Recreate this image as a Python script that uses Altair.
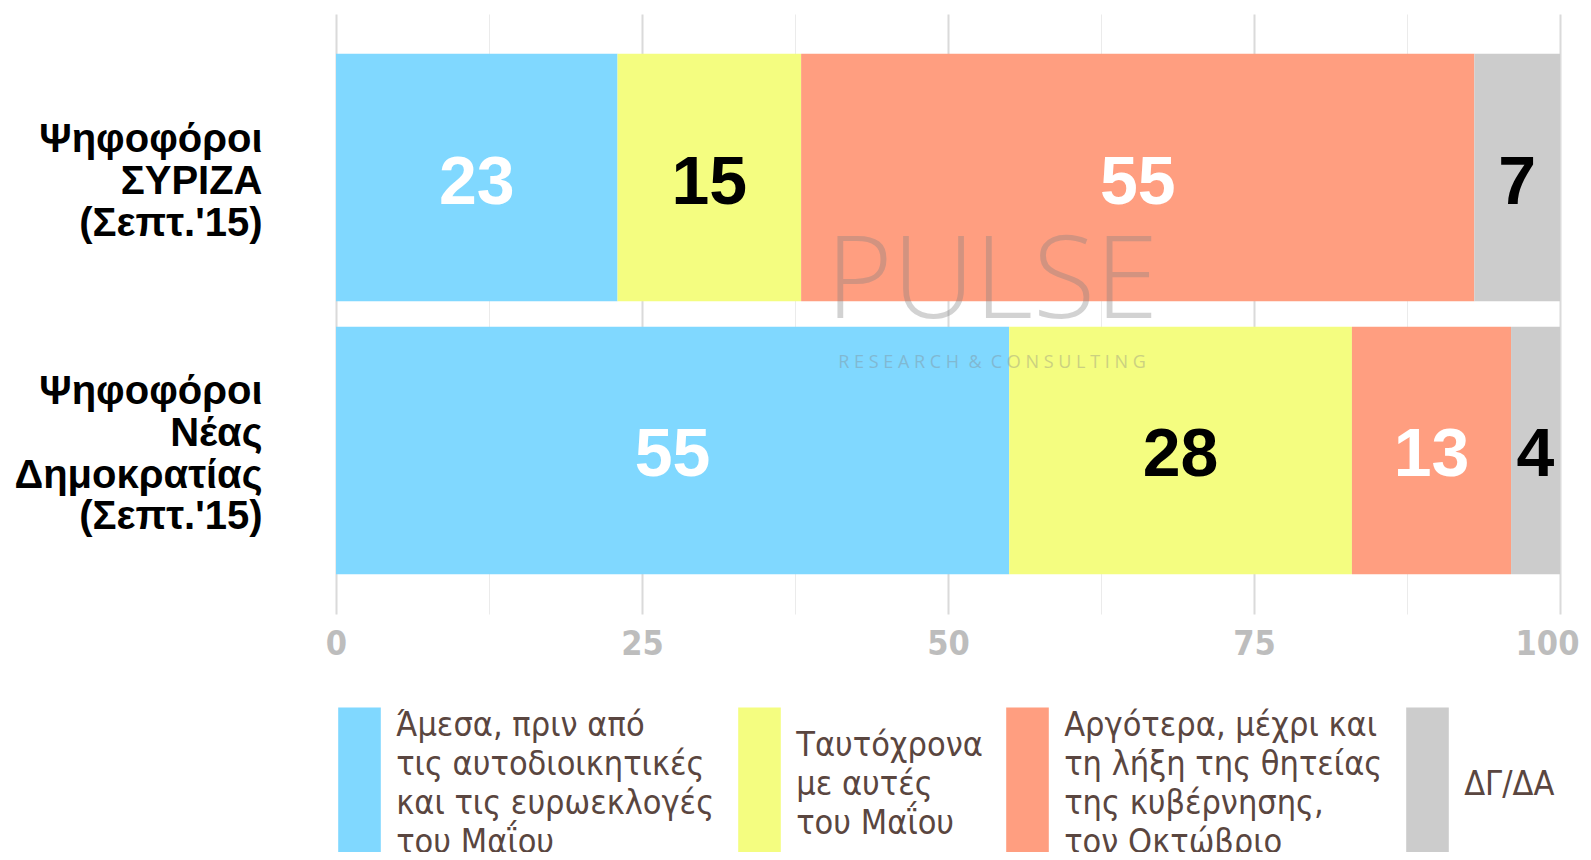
import altair as alt
import pandas as pd

groups = ["Ψηφοφόροι|ΣΥΡΙΖΑ|(Σεπτ.'15)", "Ψηφοφόροι|Νέας|Δημοκρατίας|(Σεπτ.'15)"]
answers = [
    "Άμεσα, πριν από|τις αυτοδιοικητικές|και τις ευρωεκλογές|του Μαΐου",
    "Ταυτόχρονα|με αυτές|του Μαΐου",
    "Αργότερα, μέχρι και|τη λήξη της θητείας|της κυβέρνησης,|τον Οκτώβριο",
    "ΔΓ/ΔΑ",
]
syriza_values = [23, 15, 55, 7]
nd_values = [55, 28, 13, 4]
palette = ["#80d8ff", "#f4fd80", "#ff9e80", "#cccccc"]
grid_ticks = [0, 12.5, 25, 37.5, 50, 62.5, 75, 87.5, 100]

rows = []
for g, vals in zip(groups, [syriza_values, nd_values]):
    for i, (a, v) in enumerate(zip(answers, vals)):
        rows.append({"group": g, "answer": a, "value": v, "order": i})
df = pd.DataFrame(rows)

FONT = "Liberation Sans, Arial, sans-serif"
NARROW = "Liberation Sans Narrow, Arial Narrow, DejaVu Sans Condensed, sans-serif"

# split a "|"-separated label into 7 half-height slots (blank slots hold a zero-width space),
# so that labels of 1..4 lines share the same vertical centre
N = "\u200b"
PAD = (f"split(slice('{N}|{N}|{N}|', 0, 2 * (4 - length(split(datum.label, '|')))) + "
       f"replace(datum.label, regexp('[|]', 'g'), '|{N}|') + "
       f"slice('|{N}|{N}|{N}', 0, 2 * (4 - length(split(datum.label, '|')))), '|')")

base = alt.Chart(df)

x_axis = alt.Axis(
    values=grid_ticks,
    labelExpr="datum.value % 25 === 0 ? datum.label : ''",
    domain=False, ticks=False, labelFlush=False, labelOverlap=False,
    labelFont=NARROW, labelFontSize=34, labelFontWeight="bold", labelColor="#bdbdbd",
    labelBaseline="middle", labelPadding=30,
    labelOffset={"condition": {"test": "datum.value === 100", "value": -13}, "value": 0},
    gridColor={"condition": {"test": "datum.value % 25 === 0", "value": "#dadada"}, "value": "#ebebeb"},
    gridWidth={"condition": {"test": "datum.value % 25 === 0", "value": 2}, "value": 1},
    title=None,
)
y_axis = alt.Axis(
    labelExpr=PAD,
    domain=False, ticks=False, grid=False,
    labelFont=FONT, labelFontSize=40, labelFontWeight="bold", labelColor="black",
    labelLineHeight=20.8, labelOffset=-58, labelPadding=74, labelLimit=400, title=None,
)

bars = base.mark_bar().encode(
    x=alt.X("value:Q", stack="zero", scale=alt.Scale(domain=[0, 100], nice=False), axis=x_axis),
    y=alt.Y("group:N", sort=groups, scale=alt.Scale(paddingInner=0.093, paddingOuter=0.146), axis=y_axis),
    color=alt.Color(
        "answer:N",
        scale=alt.Scale(domain=answers, range=palette),
        legend=alt.Legend(
            orient="none", legendX=2, legendY=690.7, direction="horizontal",
            title=None, padding=0,
            symbolType="M-1,-0.892L1,-0.892L1,6.009L-1,6.009Z",
            symbolSize=1815, symbolStrokeWidth=0, symbolOpacity=1,
            labelOffset=15.2,
            columnPadding=23, labelLimit=1000,
            labelExpr=PAD,
            labelFont=NARROW, labelFontSize=34, labelColor="#5a4640",
        ),
    ),
    order=alt.Order("order:Q"),
)

labels = base.transform_window(
    cum="sum(value)", groupby=["group"], sort=[alt.SortField("order")], frame=[None, 0]
).transform_calculate(
    mid="datum.cum - datum.value / 2"
).mark_text(font=FONT, fontSize=68, fontWeight="bold", baseline="middle", dy=6).encode(
    x=alt.X("mid:Q"),
    y=alt.Y("group:N", sort=groups),
    text=alt.Text("value:Q"),
    color=alt.condition("datum.order % 2 === 0", alt.value("white"), alt.value("black")),
)

wm1 = alt.Chart(pd.DataFrame({"t": ["PULSE"]})).mark_text(
    font="Open Sans, sans-serif", fontSize=114, fontWeight=300, color="#808080",
    opacity=0.35, baseline="middle",
).encode(x=alt.value(656), y=alt.value(270), text="t:N")

wm2 = alt.Chart(pd.DataFrame({"t": ["R E S E A R C H \u00a0&\u00a0 C O N S U L T I N G"]})).mark_text(
    font="Open Sans, sans-serif", fontSize=18, color="#808080",
    opacity=0.35, baseline="middle",
).encode(x=alt.value(656), y=alt.value(349), text="t:N")

chart = alt.layer(bars, labels, wm1, wm2).properties(
    width=1224, height=600,
    autosize=alt.AutoSizeParams(type="none"),
    padding={"left": 328, "top": 6, "right": 23, "bottom": 238},
).configure(
    style={"guide-label": {"lineHeight": 19.5}},
    view=alt.ViewConfig(strokeWidth=0),
)

chart.save("out.html", embed_options={"renderer": "svg", "actions": False})
